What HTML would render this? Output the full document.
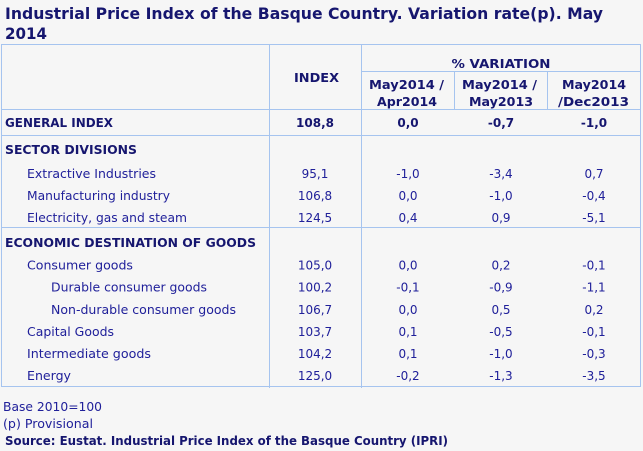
<!DOCTYPE html>
<html>
<head>
<meta charset="utf-8">
<style>
html,body{margin:0;padding:0;background:#f6f6f6;}
svg{display:block;}
text{font-family:"DejaVu Sans","Liberation Sans",sans-serif;fill:#20209a;}
.b{font-weight:bold;fill:#16166f;}
.t{font-size:16px;}
.n{font-size:12px;}
.c{text-anchor:middle;}
</style>
</head>
<body>
<svg width="643" height="451" viewBox="0 0 643 451" xmlns="http://www.w3.org/2000/svg">
<rect x="0" y="0" width="643" height="451" fill="#f6f6f6"/>
<!-- grid lines -->
<g fill="#a6c4ef">
<rect x="1" y="44" width="640" height="1"/>
<rect x="361" y="71" width="280" height="1"/>
<rect x="1" y="109" width="640" height="1"/>
<rect x="1" y="135" width="640" height="1"/>
<rect x="1" y="227" width="640" height="1"/>
<rect x="1" y="386" width="640" height="1"/>
<rect x="1" y="44" width="1" height="343"/>
<rect x="269" y="44" width="1" height="344"/>
<rect x="361" y="44" width="1" height="344"/>
<rect x="454" y="71" width="1" height="38"/>
<rect x="547" y="71" width="1" height="38"/>
<rect x="640" y="44" width="1" height="343"/>
</g>
<!-- title -->
<text class="b t" x="5" y="19" textLength="598" lengthAdjust="spacingAndGlyphs">Industrial Price Index of the Basque Country. Variation rate(p). May</text>
<text class="b t" x="5" y="39" textLength="42" lengthAdjust="spacingAndGlyphs">2014</text>
<!-- header -->
<text class="b n c" x="316.5" y="82" textLength="45" lengthAdjust="spacingAndGlyphs">INDEX</text>
<text class="b n c" x="501" y="68" textLength="99" lengthAdjust="spacingAndGlyphs">% VARIATION</text>
<text class="b n c" x="406.5" y="89" textLength="75" lengthAdjust="spacingAndGlyphs">May2014 /</text>
<text class="b n c" x="407" y="106" textLength="60" lengthAdjust="spacingAndGlyphs">Apr2014</text>
<text class="b n c" x="499.5" y="89" textLength="75" lengthAdjust="spacingAndGlyphs">May2014 /</text>
<text class="b n c" x="501" y="106" textLength="64" lengthAdjust="spacingAndGlyphs">May2013</text>
<text class="b n c" x="594" y="89" textLength="64" lengthAdjust="spacingAndGlyphs">May2014</text>
<text class="b n c" x="593.5" y="106" textLength="71" lengthAdjust="spacingAndGlyphs">/Dec2013</text>
<!-- row labels -->
<text class="b n" x="5" y="127" textLength="108" lengthAdjust="spacingAndGlyphs">GENERAL INDEX</text>
<text class="b n" x="5" y="154" textLength="132" lengthAdjust="spacingAndGlyphs">SECTOR DIVISIONS</text>
<text class="n" x="27" y="178" textLength="129" lengthAdjust="spacingAndGlyphs">Extractive Industries</text>
<text class="n" x="27" y="200" textLength="143" lengthAdjust="spacingAndGlyphs">Manufacturing industry</text>
<text class="n" x="27" y="222" textLength="160" lengthAdjust="spacingAndGlyphs">Electricity, gas and steam</text>
<text class="b n" x="5" y="247" textLength="251" lengthAdjust="spacingAndGlyphs">ECONOMIC DESTINATION OF GOODS</text>
<text class="n" x="27" y="269.5" textLength="106" lengthAdjust="spacingAndGlyphs">Consumer goods</text>
<text class="n" x="51" y="291.7" textLength="156" lengthAdjust="spacingAndGlyphs">Durable consumer goods</text>
<text class="n" x="51" y="314" textLength="185" lengthAdjust="spacingAndGlyphs">Non-durable consumer goods</text>
<text class="n" x="27" y="336" textLength="87" lengthAdjust="spacingAndGlyphs">Capital Goods</text>
<text class="n" x="27" y="358" textLength="124" lengthAdjust="spacingAndGlyphs">Intermediate goods</text>
<text class="n" x="27" y="380" textLength="44" lengthAdjust="spacingAndGlyphs">Energy</text>
<!-- numbers -->
<text class="b n c" x="315" y="127">108,8</text>
<text class="b n c" x="408" y="127">0,0</text>
<text class="b n c" x="501" y="127">-0,7</text>
<text class="b n c" x="594" y="127">-1,0</text>
<text class="n c" x="315" y="178">95,1</text><text class="n c" x="408" y="178">-1,0</text><text class="n c" x="501" y="178">-3,4</text><text class="n c" x="594" y="178">0,7</text>
<text class="n c" x="315" y="200">106,8</text><text class="n c" x="408" y="200">0,0</text><text class="n c" x="501" y="200">-1,0</text><text class="n c" x="594" y="200">-0,4</text>
<text class="n c" x="315" y="222">124,5</text><text class="n c" x="408" y="222">0,4</text><text class="n c" x="501" y="222">0,9</text><text class="n c" x="594" y="222">-5,1</text>
<text class="n c" x="315" y="269.5">105,0</text><text class="n c" x="408" y="269.5">0,0</text><text class="n c" x="501" y="269.5">0,2</text><text class="n c" x="594" y="269.5">-0,1</text>
<text class="n c" x="315" y="291.7">100,2</text><text class="n c" x="408" y="291.7">-0,1</text><text class="n c" x="501" y="291.7">-0,9</text><text class="n c" x="594" y="291.7">-1,1</text>
<text class="n c" x="315" y="314">106,7</text><text class="n c" x="408" y="314">0,0</text><text class="n c" x="501" y="314">0,5</text><text class="n c" x="594" y="314">0,2</text>
<text class="n c" x="315" y="336">103,7</text><text class="n c" x="408" y="336">0,1</text><text class="n c" x="501" y="336">-0,5</text><text class="n c" x="594" y="336">-0,1</text>
<text class="n c" x="315" y="358">104,2</text><text class="n c" x="408" y="358">0,1</text><text class="n c" x="501" y="358">-1,0</text><text class="n c" x="594" y="358">-0,3</text>
<text class="n c" x="315" y="380">125,0</text><text class="n c" x="408" y="380">-0,2</text><text class="n c" x="501" y="380">-1,3</text><text class="n c" x="594" y="380">-3,5</text>
<!-- footer -->
<text class="n" x="3" y="411" textLength="99" lengthAdjust="spacingAndGlyphs">Base 2010=100</text>
<text class="n" x="3" y="428" textLength="90" lengthAdjust="spacingAndGlyphs">(p) Provisional</text>
<text class="b n" x="5" y="445" textLength="443" lengthAdjust="spacingAndGlyphs">Source: Eustat. Industrial Price Index of the Basque Country (IPRI)</text>
</svg>
</body>
</html>
